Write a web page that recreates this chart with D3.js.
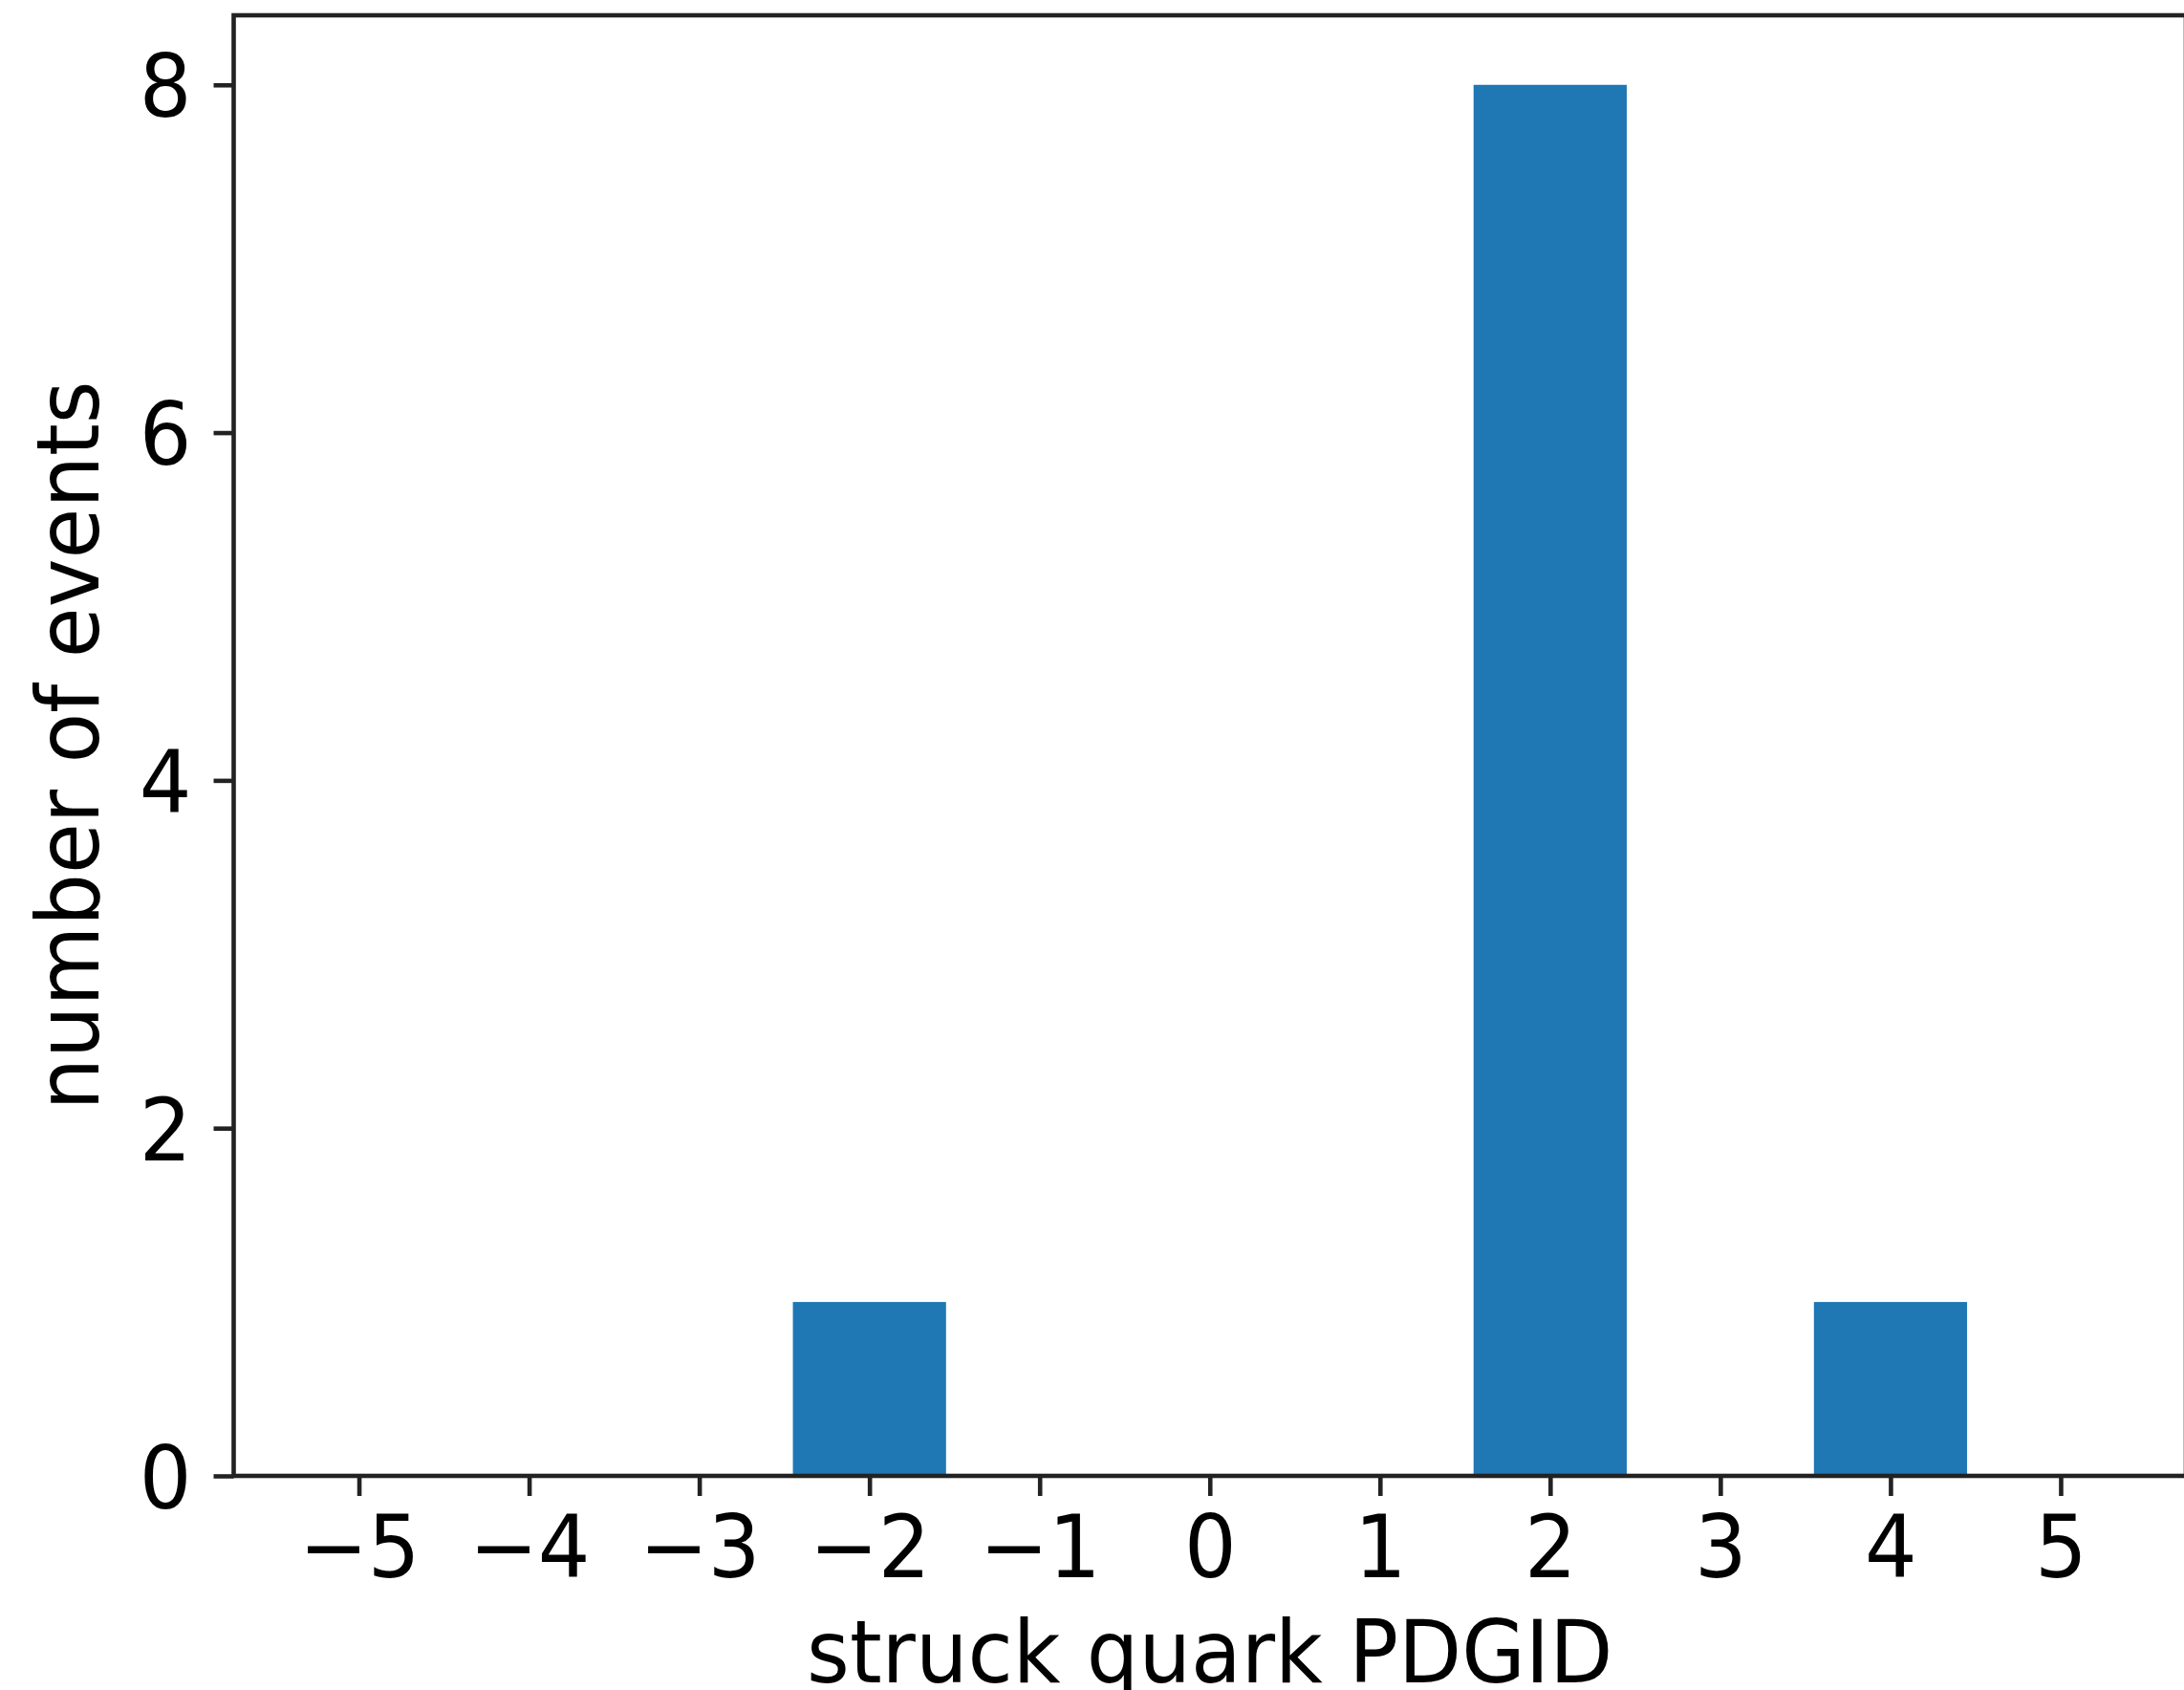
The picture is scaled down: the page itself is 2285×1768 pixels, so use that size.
<!DOCTYPE html>
<html>
<head>
<meta charset="utf-8">
<script src="https://cdn.jsdelivr.net/npm/d3@7"></script>
<style>
  body { margin: 0; background: #fff; }
  svg { display: block; }
  text { font-family: 'DejaVu Sans', sans-serif; fill: #000; }
</style>
</head>
<body>
<div id="chart"></div>
<script>
// struck quark PDG ids and how many events hit each one
const pdgIds = [-5, -4, -3, -2, -1, 0, 1, 2, 3, 4, 5]
const counts = [0, 0, 0, 1, 0, 0, 0, 8, 0, 1, 0]
const yTicks = [0, 2, 4, 6, 8]
const xLabel = 'struck quark PDGID'
const yLabel = 'number of events'

const width = 2285
const height = 1768
const plot = {left: 244.5, right: 2287, top: 16, bottom: 1544}
const fontSize = 86
const stretch = 1.06  // glyphs in the original look a touch taller than wide
const tickLen = 21
const tickPad = 22
const lineW = 4.6
const barColor = '#1f77b4'

const data = pdgIds.map((id, i) => ({id: id, n: counts[i]}))

const x = d3.scaleLinear().domain([-5.736, 5.736]).range([plot.left, plot.right])
const y = d3.scaleLinear().domain([0, 8.4]).range([plot.bottom, plot.top])

const svg = d3.select('#chart')
  .append('svg')
  .attr('width', width)
  .attr('height', height)

// bars, width 0.9 in data units
const barW = 0.9
svg.append('g')
  .selectAll('rect')
  .data(data.filter(d => d.n > 0))
  .enter()
  .append('rect')
  .attr('x', d => x(d.id - barW / 2))
  .attr('width', d => x(d.id + barW / 2) - x(d.id - barW / 2))
  .attr('y', d => y(d.n))
  .attr('height', d => y(0) - y(d.n))
  .attr('fill', barColor)

// x axis
const xAxis = d3.axisBottom(x)
  .tickValues(pdgIds)
  .tickSizeInner(tickLen)
  .tickSizeOuter(0)
  .tickPadding(tickPad)
  .tickFormat(d => d < 0 ? '\u2212' + Math.abs(d) : String(d))

svg.append('g')
  .attr('transform', `translate(0,${plot.bottom})`)
  .call(xAxis)
  .call(g => g.select('.domain').remove())
  .call(g => g.selectAll('.tick line').attr('stroke', '#222').attr('stroke-width', lineW))
  .call(g => g.selectAll('.tick text')
    .attr('dy', null)
    .attr('y', 106 / stretch)
    .attr('transform', `scale(1,${stretch})`)
    .attr('font-size', fontSize)
    .attr('font-family', 'DejaVu Sans')
    .attr('fill', '#000'))

// y axis
const yAxis = d3.axisLeft(y)
  .tickValues(yTicks)
  .tickSizeInner(tickLen)
  .tickSizeOuter(0)
  .tickPadding(tickPad)

svg.append('g')
  .attr('transform', `translate(${plot.left},0)`)
  .call(yAxis)
  .call(g => g.select('.domain').remove())
  .call(g => g.selectAll('.tick line').attr('stroke', '#222').attr('stroke-width', lineW))
  .call(g => g.selectAll('.tick text')
    .attr('dy', null)
    .attr('y', 33 / stretch)
    .attr('transform', `scale(1,${stretch})`)
    .attr('x', -(tickLen + tickPad + 1))
    .attr('font-size', fontSize)
    .attr('font-family', 'DejaVu Sans')
    .attr('fill', '#000'))

// frame
svg.append('rect')
  .attr('x', plot.left)
  .attr('y', plot.top)
  .attr('width', plot.right - plot.left)
  .attr('height', plot.bottom - plot.top)
  .attr('fill', 'none')
  .attr('stroke', '#222')
  .attr('stroke-width', lineW)

// axis labels
svg.append('text')
  .attr('transform', `translate(${(plot.left + plot.right) / 2},1760) scale(1,${stretch})`)
  .attr('text-anchor', 'middle')
  .attr('font-size', fontSize)
  .text(xLabel)

svg.append('text')
  .attr('transform', `translate(103,${(plot.top + plot.bottom) / 2}) rotate(-90) scale(1,${stretch})`)
  .attr('text-anchor', 'middle')
  .attr('font-size', fontSize)
  .text(yLabel)
</script>
</body>
</html>
